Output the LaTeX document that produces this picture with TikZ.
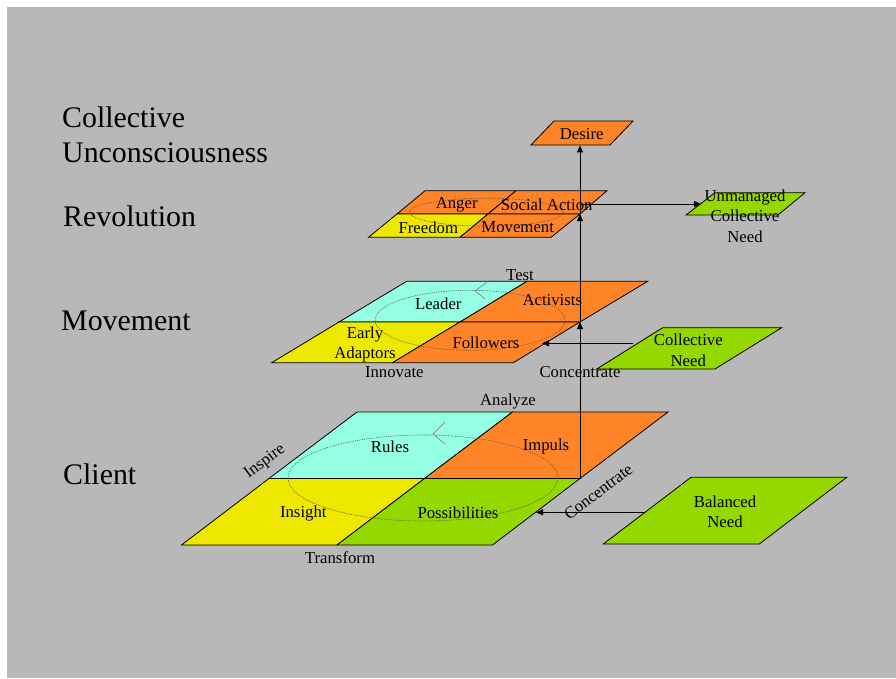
\documentclass[tikz,border=0pt]{standalone}
\usepackage{fontspec}
\setmainfont{Liberation Serif}
\usetikzlibrary{arrows.meta}
\definecolor{slate}{RGB}{184,184,184}
\definecolor{orng}{RGB}{255,132,40}
\definecolor{aqua}{RGB}{148,255,226}
\definecolor{yell}{RGB}{238,232,0}
\definecolor{grn}{RGB}{148,216,0}
\begin{document}
\begin{tikzpicture}[x=1bp,y=-1bp,
	lbl/.style={inner sep=0pt,font=\fontsize{16.8}{20.8}\selectfont,align=center},
	title/.style={inner sep=0pt,anchor=west,font=\fontsize{30}{35}\selectfont,align=left},
	slab/.style={draw=black,line width=0.8bp},
	loop/.style={draw=black!65,line width=0.6bp,dash pattern=on 1.2bp off 1.2bp},
	flow/.style={line width=0.9bp,-{Triangle[length=7bp,width=6bp]}}]
	\useasboundingbox (0,0) rectangle (896,679);
	\fill[white](0,0) rectangle (896,679);
	\fill[slate](7,7) rectangle (896,678);
	% client
	\filldraw[slab,fill=aqua](357,412)--(512.5,412)--(424.5,478.5)--(269,478.5)--cycle;
	\filldraw[slab,fill=orng](512.5,412)--(668,412)--(580,478.5)--(424.5,478.5)--cycle;
	\filldraw[slab,fill=yell](269,478.5)--(424.5,478.5)--(337,545)--(181.5,545)--cycle;
	\filldraw[slab,fill=grn](424.5,478.5)--(580,478.5)--(492.5,545)--(337,545)--cycle;
	\draw[loop](423,478) ellipse (135 and 43);
	\draw[draw=black!55,line width=0.5bp](445,422)--(433,434)--(445,444);
	% movement
	\filldraw[slab,fill=aqua](406.7,281.3)--(527,281.3)--(460,322)--(339,322)--cycle;
	\filldraw[slab,fill=orng](527,281.3)--(647.7,281.3)--(580,322)--(460,322)--cycle;
	\filldraw[slab,fill=yell](339,322)--(460,322)--(392.5,362.7)--(271.7,362.7)--cycle;
	\filldraw[slab,fill=orng](460,322)--(580,322)--(513.3,362.7)--(392.5,362.7)--cycle;
	\draw[loop](470,320.3) ellipse (95 and 30);
	\draw[draw=black!55,line width=0.5bp](490,280)--(475,291)--(485,298.7);
	% revolution
	\filldraw[slab,fill=orng](425,190.7)--(516,190.7)--(488,214)--(397,214)--cycle;
	\filldraw[slab,fill=orng](516,190.7)--(607,190.7)--(580,214)--(488,214)--cycle;
	\filldraw[slab,fill=yell](397,214)--(488,214)--(460,237.3)--(368.5,237.3)--cycle;
	\filldraw[slab,fill=orng](488,214)--(580,214)--(551,237.3)--(460,237.3)--cycle;
	\draw[loop](486.3,212.2) ellipse (77 and 14);
	% needs and desire
	\filldraw[slab,fill=orng](554,121)--(633,121)--(610,145)--(531,145)--cycle;
	\filldraw[slab,fill=grn](715,192.7)--(805,192.7)--(778,215)--(686,215)--cycle;
	\filldraw[slab,fill=grn](662.7,327.7)--(781.7,327.7)--(715,369)--(596.7,369)--cycle;
	\filldraw[slab,fill=grn](691,477.3)--(846.7,477.3)--(759.3,544)--(603.3,544)--cycle;
	\coordinate (cliR) at (580,478.5);
	\coordinate (movR) at (580,322);
	\coordinate (revR) at (580,214);
	\coordinate (revO) at (580,204);
	\coordinate (desB) at (580,145.5);
	\coordinate (unmL) at (701,204);
	\coordinate (colL) at (633,343.3);
	\coordinate (movE) at (542,343.3);
	\coordinate (balL) at (645,512.3);
	\coordinate (cliE) at (536,512.3);
	\draw[flow](cliR)--(movR);
	\draw[flow](movR)--(revR);
	\draw[flow](revR)--(desB);
	\draw[flow](revO)--(unmL);
	\draw[flow](colL)--(movE);
	\draw[flow](balL)--(cliE);
	% titles
	\node[title] (tUnc) at (62,134.5) {Collective\\Unconsciousness};
	\node[title] (tRev) at (63,216) {Revolution};
	\node[title] (tMov) at (61,321) {Movement};
	\node[title] (tCli) at (63,474) {Client};
	% labels
	\node[lbl] (rules) at (390,446.7) {Rules};
	\node[lbl] (impuls) at (546,446.7) {Impuls};
	\node[lbl] (insight) at (303.3,513.3) {Insight};
	\node[lbl] (possib) at (458,513) {Possibilities};
	\node[lbl] (analyze) at (508,401.7) {Analyze};
	\node[lbl] (transform) at (340,557.3) {Transform};
	\node[lbl,rotate=37] (inspire) at (265,461.7) {Inspire};
	\node[lbl,rotate=37] (concA) at (598.3,491.7) {Concentrate};
	\node[lbl] (balanced) at (725,511.7) {Balanced\\Need};
	\node[lbl] (test) at (520,275.3) {Test};
	\node[lbl] (leader) at (438.3,303.7) {Leader};
	\node[lbl] (activists) at (552.3,299.7) {Activists};
	\node[lbl] (early) at (365,344.5) {Early\\Adaptors};
	\node[lbl] (followers) at (486,343) {Followers};
	\node[lbl] (innovate) at (394.3,372) {Innovate};
	\node[lbl] (concB) at (580,371.7) {Concentrate};
	\node[lbl] (colneed) at (688.3,350.3) {Collective\\Need};
	\node[lbl] (anger) at (456.7,205) {Anger};
	\node[lbl] (social) at (546.7,205) {Social Action};
	\node[lbl] (freedom) at (428.3,227.3) {Freedom};
	\node[lbl] (movement) at (517.7,227.3) {Movement};
	\node[lbl] (desire) at (581.7,134) {Desire};
	\node[lbl] (unmanaged) at (745,216.2) {Unmanaged\\Collective\\Need};
\end{tikzpicture}
\end{document}
